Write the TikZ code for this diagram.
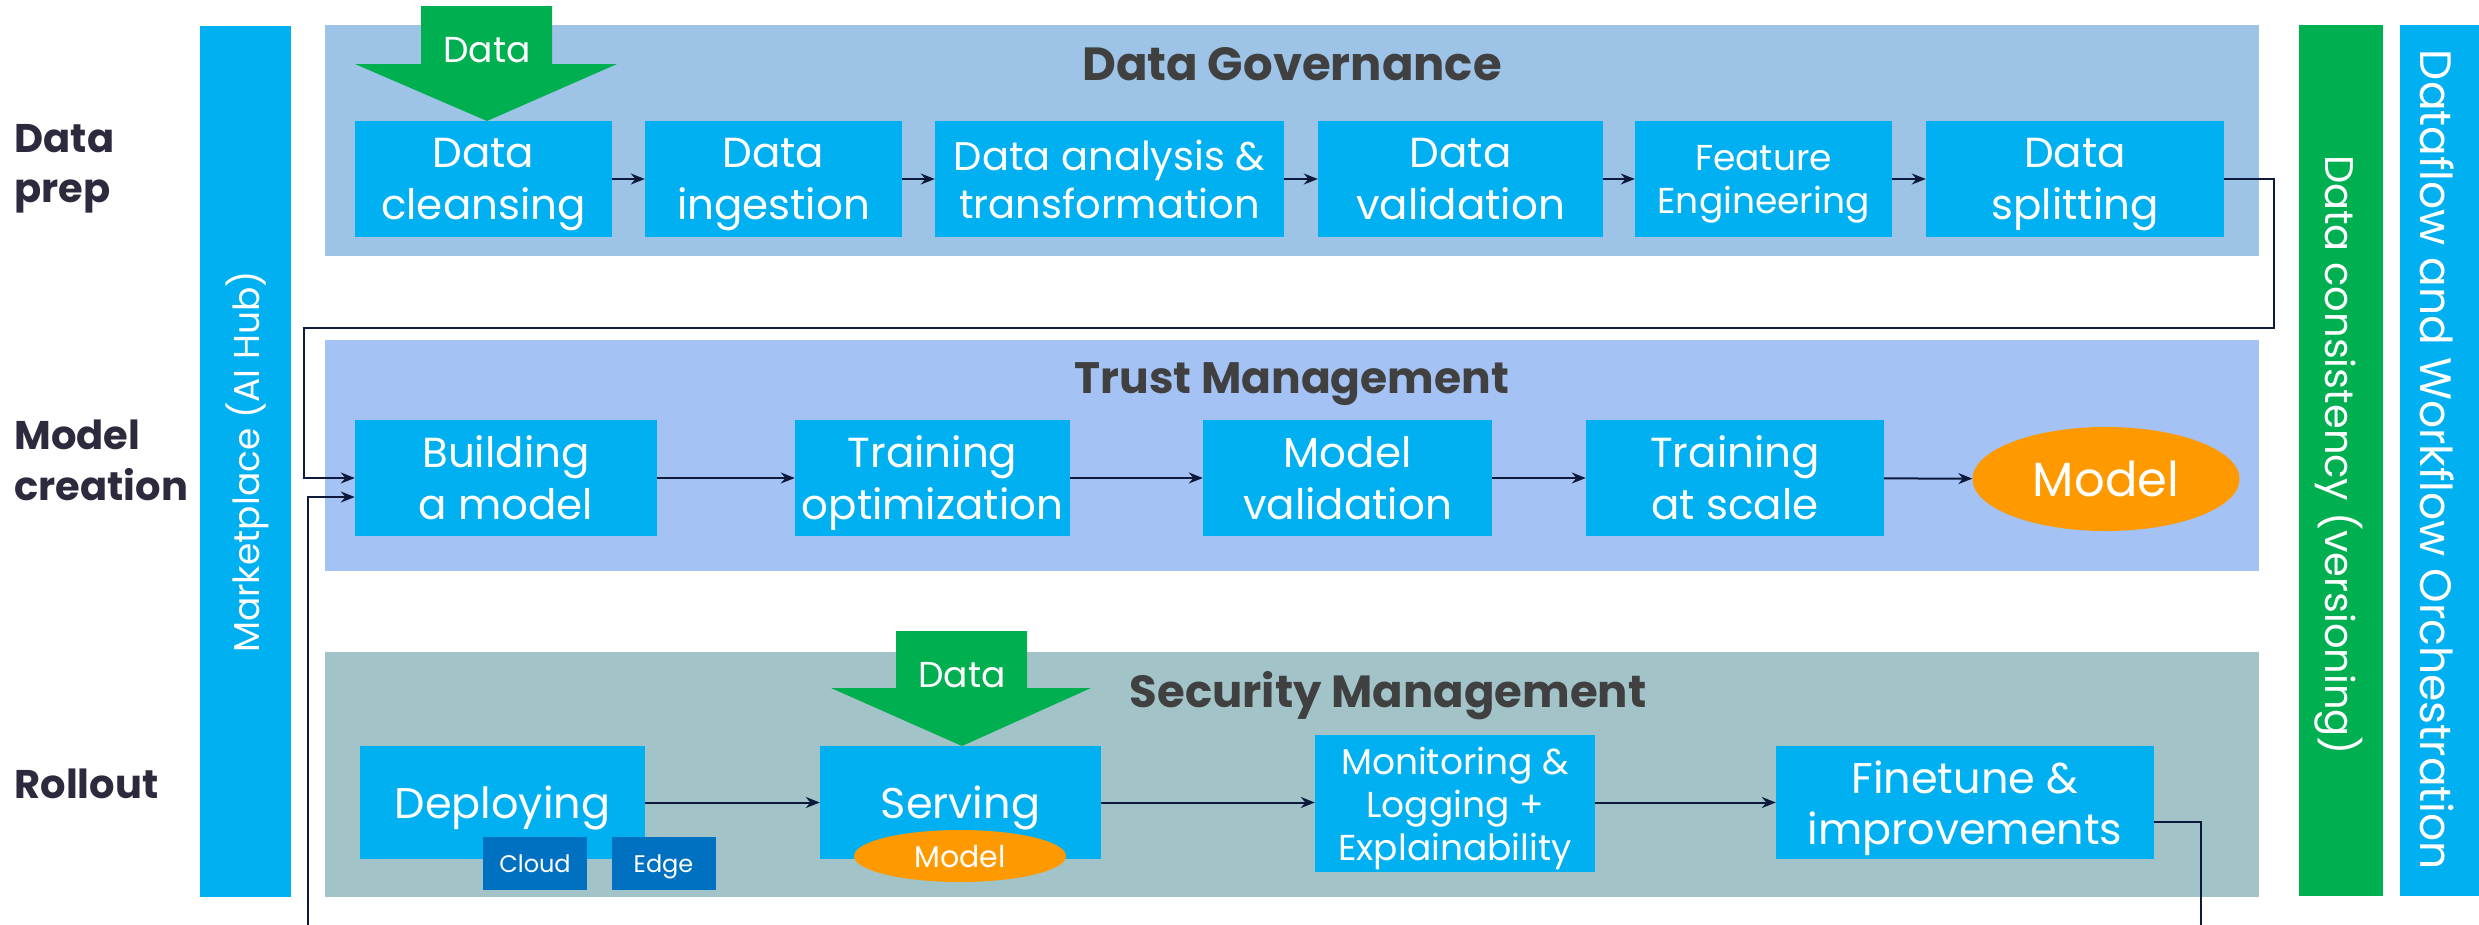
\documentclass[tikz,border=0pt]{standalone}
\usepackage{fontspec}
\setmainfont{Poppins}
\usetikzlibrary{arrows.meta,shapes.geometric}
\definecolor{cyanbox}{HTML}{00B0F0}
\definecolor{dgpanel}{HTML}{9DC3E6}
\definecolor{tmpanel}{HTML}{A4C2F4}
\definecolor{smpanel}{HTML}{A2C4C9}
\definecolor{greenbar}{HTML}{00B050}
\definecolor{orangeel}{HTML}{FF9900}
\definecolor{darkbox}{HTML}{0070C0}
\definecolor{titlegray}{HTML}{404040}
\definecolor{labelnavy}{HTML}{2D2A3E}
\definecolor{linenavy}{HTML}{0E1A3C}
\begin{document}
\begin{tikzpicture}[x=1pt,y=-1pt,
  box/.style={fill=cyanbox, text=white, inner sep=0pt, align=center, draw=none, text depth=0pt},
  fsA/.style={font=\fontsize{42}{52}\selectfont},
  fsB/.style={font=\fontsize{36}{43}\selectfont},
  ptitle/.style={anchor=base, text=titlegray},
  rowlabel/.style={anchor=base west, text=labelnavy, align=left, font=\bfseries\fontsize{40}{50}\selectfont},
  flow/.style={draw=linenavy, line width=2pt, -{Stealth[length=14pt,width=11pt]}},
  bartext/.style={text=white, font=\fontsize{40}{48}\selectfont, inner sep=0pt},
  datarrow/.style={fill=greenbar, draw=none},
  modelel/.style={ellipse, fill=orangeel, text=white, inner sep=0pt, draw=none, text depth=0pt}
]
\useasboundingbox (0,0) rectangle (2479,924);

% panels
\fill[dgpanel] (325,25) rectangle (2259,256);
\fill[tmpanel] (325,340) rectangle (2259,571);
\fill[smpanel] (325,652) rectangle (2259,897);

% side bars
\fill[cyanbox] (200,26) rectangle (291,897);
\fill[greenbar] (2299,25) rectangle (2383,896);
\fill[cyanbox] (2400,25) rectangle (2479,896);
\node[bartext, rotate=90, font=\fontsize{36}{44}\selectfont] (mkt) at (247,462) {Marketplace (AI Hub)};
\node[bartext, rotate=-90, font=\fontsize{40}{48}\selectfont] (cons) at (2339,455) {Data consistency (versioning)};
\node[bartext, rotate=-90, font=\fontsize{44}{52}\selectfont] (orch) at (2437,460) {Dataflow and Workflow Orchestration};

% row labels
\node[rowlabel] (lbl1) at (11,152) {Data};
\node[rowlabel] (lbl1b) at (11,202) {prep};
\node[rowlabel] (lbl2) at (11,449) {Model};
\node[rowlabel] (lbl2b) at (11,500) {creation};
\node[rowlabel] (lbl3) at (11,798) {Rollout};

% titles
\node[ptitle, font=\bfseries\fontsize{46.5}{56}\selectfont] (t1) at (1292,80) {Data Governance};
\node[ptitle, font=\bfseries\fontsize{44}{56}\selectfont] (t2) at (1292,393) {Trust Management};
\node[ptitle, font=\bfseries\fontsize{45}{56}\selectfont] (t3) at (1388,707) {Security Management};

% data arrow 1
\fill[datarrow] (421,6) -- (552,6) -- (552,64) -- (617,64) -- (487,121) -- (355,64) -- (421,64) -- cycle;
% data arrow 2
\fill[datarrow] (896,631) -- (1027,631) -- (1027,688) -- (1091,688) -- (962,746) -- (831,688) -- (896,688) -- cycle;

% connector bends
\coordinate (c1a) at (2274,179);
\coordinate (c1b) at (2274,328);
\coordinate (c1c) at (304,328);
\coordinate (c2a) at (2201,822);
\coordinate (c2b) at (2201,960);
\coordinate (c2c) at (308,960);

% Data prep row
\node[box, fsA, minimum width=257pt, minimum height=116pt] (clean) at (483.5,179) {Data\\cleansing};
\node[box, fsA, minimum width=257pt, minimum height=116pt] (ingest) at (773.5,179) {Data\\ingestion};
\node[box, font=\fontsize{40}{48}\selectfont, minimum width=349pt, minimum height=116pt] (analysis) at (1109.5,179) {Data analysis \&\\transformation};
\node[box, fsA, minimum width=285pt, minimum height=116pt] (valid) at (1460.5,179) {Data\\validation};
\node[box, fsB, minimum width=257pt, minimum height=116pt] (feature) at (1763.5,179) {Feature\\Engineering};
\node[box, fsA, minimum width=298pt, minimum height=116pt] (split) at (2075,179) {Data\\splitting};

% Model creation row
\node[box, fsA, minimum width=302pt, minimum height=116pt] (build) at (506,478) {Building\\a model};
\node[box, fsA, minimum width=275pt, minimum height=116pt] (trainopt) at (932.5,478) {Training\\optimization};
\node[box, fsA, minimum width=289pt, minimum height=116pt] (modelval) at (1347.5,478) {Model\\validation};
\node[box, fsA, minimum width=298pt, minimum height=116pt] (scale) at (1735,478) {Training\\at scale};
\node[modelel, font=\fontsize{48}{56}\selectfont, minimum width=267pt, minimum height=104pt] (model) at (2106,479) {Model};

% Rollout row
\node[box, font=\fontsize{43}{51}\selectfont, minimum width=285pt, minimum height=113pt] (deploy) at (502.5,802.5) {Deploying};
\node[fill=darkbox, text=white, inner sep=0pt, font=\fontsize{24}{28}\selectfont, minimum width=104pt, minimum height=53pt, text depth=0pt] (cloud) at (535,863.5) {Cloud};
\node[fill=darkbox, text=white, inner sep=0pt, font=\fontsize{24}{28}\selectfont, minimum width=104pt, minimum height=53pt, text depth=0pt] (edge) at (663.5,863.5) {Edge};
\node[box, font=\fontsize{43}{51}\selectfont, minimum width=281pt, minimum height=113pt] (serving) at (960.5,802.5) {Serving};
\node[modelel, font=\fontsize{30}{36}\selectfont, minimum width=212pt, minimum height=52pt] (smodel) at (960,856) {Model};
\node[box, fsB, minimum width=280pt, minimum height=137pt] (monitor) at (1455,803.5) {Monitoring \&\\Logging +\\Explainability};
\node[box, font=\fontsize{43}{51}\selectfont, minimum width=378pt, minimum height=113pt] (finetune) at (1965,802.5) {Finetune \&\\improvements};

% data labels
\node[text=white, inner sep=0pt, font=\fontsize{36}{42}\selectfont, text depth=0pt] (d1) at (487,50) {Data};
\node[text=white, inner sep=0pt, font=\fontsize{36}{42}\selectfont, text depth=0pt] (d2) at (962,675) {Data};

% arrows
\draw[flow] (clean) -- (ingest);
\draw[flow] (ingest) -- (analysis);
\draw[flow] (analysis) -- (valid);
\draw[flow] (valid) -- (feature);
\draw[flow] (feature) -- (split);
\draw[flow] (build) -- (trainopt);
\draw[flow] (trainopt) -- (modelval);
\draw[flow] (modelval) -- (scale);
\draw[flow] (scale) -- (model);
\draw[flow] (deploy.east) -- (serving.west);
\draw[flow] (serving.east) -- (monitor.west |- serving.east);
\draw[flow] (monitor.east |- finetune.west) -- (finetune.west);
\draw[flow] (split.east) -- (c1a) -- (c1b) -- (c1c) -- (c1c |- build.west) -- (build.west);
\draw[flow] (finetune.east |- c2a) -- (c2a) -- (c2b) -- (c2c) -- ([yshift=-19pt]c2c |- build.west) -- ([yshift=-19pt]build.west);
\end{tikzpicture}
\end{document}
